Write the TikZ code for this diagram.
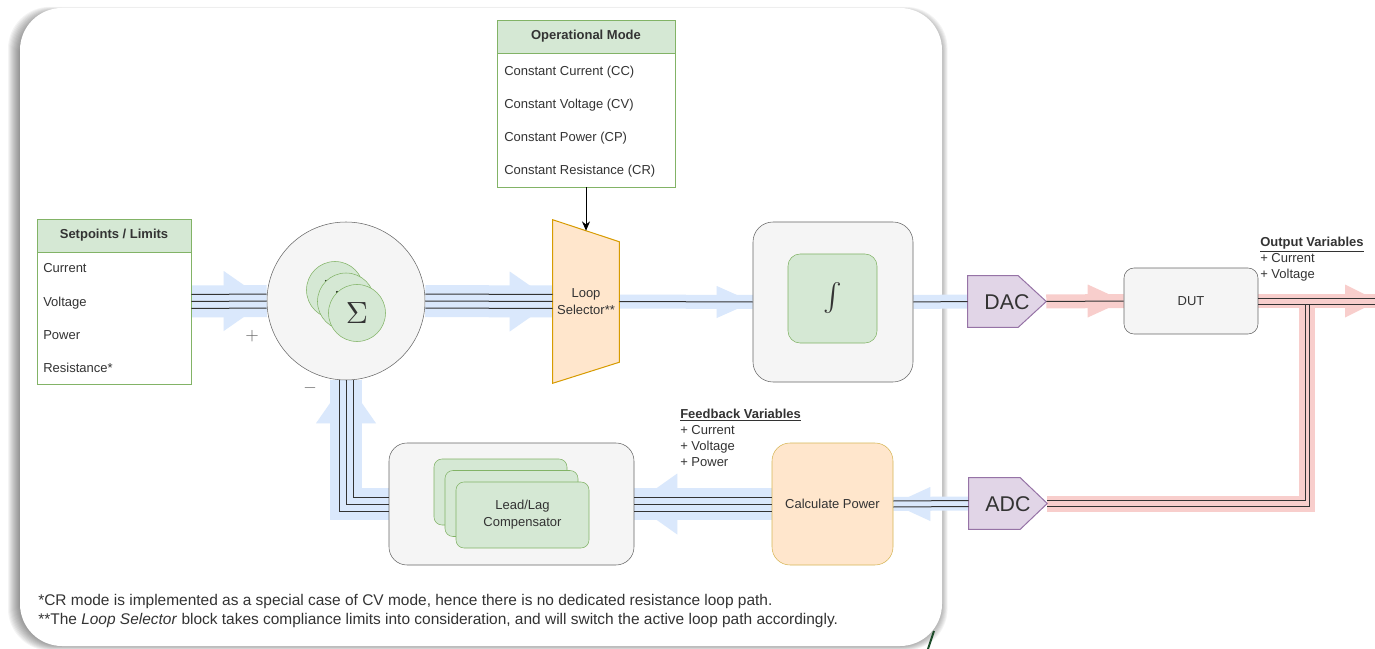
\documentclass[tikz,border=0pt]{standalone}
\usepackage{fontspec}
\setmainfont{Liberation Sans}
\usetikzlibrary{calc,arrows.meta}
\pgfdeclarelayer{back}
\pgfdeclarelayer{bands}
\pgfsetlayers{back,bands,main}
\definecolor{gfill}{HTML}{D5E8D4}
\definecolor{gdraw}{HTML}{82B366}
\definecolor{grfill}{HTML}{F5F5F5}
\definecolor{grdraw}{HTML}{666666}
\definecolor{ofill}{HTML}{FFE6CC}
\definecolor{odraw}{HTML}{D79B00}
\definecolor{ydraw}{HTML}{D6B656}
\definecolor{pfill}{HTML}{E1D5E7}
\definecolor{pdraw}{HTML}{9673A6}
\definecolor{bband}{HTML}{DAE8FC}
\definecolor{rband}{HTML}{F8CECC}
\definecolor{tc}{HTML}{333333}
\definecolor{dkgreen}{HTML}{1E4D2B}
\begin{document}
\begin{tikzpicture}[x=0.75pt,y=-0.75pt,
  every node/.style={text=tc},
  f/.style={font=\fontsize{9.75}{12.75}\selectfont},
  tbl/.style={draw=gdraw, fill=white, inner sep=0pt},
  hdr/.style={draw=gdraw, fill=gfill, inner sep=0pt, font=\bfseries\fontsize{9.75}{12}\selectfont},
  row/.style={f, anchor=base west, inner sep=0pt},
  grbox/.style={draw=grdraw, fill=grfill, inner sep=0pt},
  gnbox/.style={draw=gdraw, fill=gfill, inner sep=0pt},
  geo/.style={inner sep=0pt, draw=none},
  ln/.style={draw=tc, line width=0.75pt},
  bb/.style={bband, line width=#1, miter limit=10},
  rb/.style={rband, line width=#1, miter limit=10},
  lbl/.style={f, anchor=base west, inner sep=0pt}
]
\useasboundingbox (0,0) rectangle (1375,649);

% ---------- panel with shadow
\begin{pgfonlayer}{back}
\foreach \i in {1,...,12}{
  \fill[black,opacity=0.045,rounded corners=31.5pt]
    (20-\i*1.0,14-\i*0.6) rectangle (938+\i*0.8,644+\i*0.55);
}
\fill[white,rounded corners=31.5pt] (20,8) rectangle (942,646);
\end{pgfonlayer}
\draw[dkgreen,line width=1.5pt] (927,652) -- (934,631);

% ---------- nodes
\node[tbl, minimum width=115.5pt, minimum height=123.75pt] (sp) at (114,301.5) {};
\node[hdr, minimum width=115.5pt, minimum height=24.75pt] (sph) at (114,235.5) {Setpoints / Limits};
\node[row] (sp1) at (43,272.5) {Current};
\node[row] (sp2) at (43,306) {Voltage};
\node[row] (sp3) at (43,339) {Power};
\node[row] (sp4) at (43,372.5) {Resistance*};

\node[tbl, minimum width=133.5pt, minimum height=125.25pt] (om) at (586,103.5) {};
\node[hdr, minimum width=133.5pt, minimum height=24.75pt] (omh) at (586,36.5) {Operational Mode};
\node[row] (om1) at (504,75.5) {Constant Current (CC)};
\node[row] (om2) at (504,108.5) {Constant Voltage (CV)};
\node[row] (om3) at (504,141.5) {Constant Power (CP)};
\node[row] (om4) at (504,174.5) {Constant Resistance (CR)};

\node[grbox, circle, minimum size=118.5pt] (sum) at (346,301) {};
\node[gnbox, circle, minimum size=42.75pt] (s1) at (335,290) {};
\fill[black] (326,281) circle (1.2);
\node[gnbox, circle, minimum size=42.75pt] (s2) at (346,301.5) {};
\fill[black] (337,292) circle (1.2);
\node[gnbox, circle, minimum size=42.75pt] (s3) at (357,313) {\scalebox{2.3}{$\Sigma$}};
\node[text=grdraw] (plus) at (252,336) {\scalebox{1.3}{$+$}};
\node[text=grdraw] (minus) at (310,388) {\scalebox{1.3}{$-$}};

\node[geo, minimum width=49.5pt, minimum height=122.25pt] (sel) at (586,301.5) {};
\filldraw[fill=ofill, draw=odraw, line width=0.75pt]
  (sel.north west) -- ([yshift=-16.5pt]sel.north east) -- ([yshift=15.75pt]sel.south east) -- (sel.south west) -- cycle;
\node[f, align=center, inner sep=0pt] (selt) at (586,302) {Loop\\Selector**};

\node[grbox, rounded corners=15pt, minimum size=120pt] (integ) at (833,302) {};
\node[gnbox, rounded corners=9pt, minimum size=66.75pt] (integi) at (832.5,298.5) {\scalebox{2.1}{$\int$}};

\node[geo, minimum width=58.5pt, minimum height=38.25pt] (dac) at (1007,301.5) {};
\filldraw[fill=pfill, draw=pdraw, line width=0.75pt]
  (dac.north west) -- ([xshift=-21pt]dac.north east) -- (dac.east) -- ([xshift=-21pt]dac.south east) -- (dac.south west) -- cycle;
\node[font=\fontsize{16}{18}\selectfont, inner sep=0pt] (dact) at (1007,302) {DAC};

\node[grbox, rounded corners=7.5pt, minimum width=100.5pt, minimum height=49.5pt, f] (dut) at (1191,301) {DUT};

\node[geo, minimum width=58.5pt, minimum height=38.25pt] (adc) at (1008,503.5) {};
\filldraw[fill=pfill, draw=pdraw, line width=0.75pt]
  (adc.north west) -- ([xshift=-20.25pt]adc.north east) -- (adc.east) -- ([xshift=-20.25pt]adc.south east) -- (adc.south west) -- cycle;
\node[font=\fontsize{16}{18}\selectfont, inner sep=0pt] (adct) at (1008,504) {ADC};

\node[draw=ydraw, fill=ofill, rounded corners=13.5pt, minimum width=90.75pt, minimum height=91.5pt, inner sep=0pt, f] (cp) at (832.5,504) {Calculate Power};

\node[grbox, rounded corners=13.5pt, minimum width=183.75pt, minimum height=91.5pt] (ll) at (511.5,504) {};
\node[gnbox, rounded corners=6pt, minimum width=99.75pt, minimum height=49.5pt] (ll1) at (500.5,492) {};
\node[gnbox, rounded corners=6pt, minimum width=99.75pt, minimum height=49.5pt] (ll2) at (511.5,503.5) {};
\node[gnbox, rounded corners=6pt, minimum width=99.75pt, minimum height=49.5pt, f, align=center] (ll3) at (522.5,515) {Lead/Lag\\Compensator};

\coordinate (tap) at (1307,301);
\coordinate (out) at (1378,301);

% ---------- labels
\node[lbl, font=\bfseries\fontsize{9.75}{12}\selectfont] (fbh) at (680,418.5) {\underline{Feedback Variables}};
\node[lbl] (fb1) at (680,434.5) {+ Current};
\node[lbl] (fb2) at (680,450.5) {+ Voltage};
\node[lbl] (fb3) at (680,466.5) {+ Power};
\node[lbl, font=\bfseries\fontsize{9.75}{12}\selectfont] (ovh) at (1260,246.5) {\underline{Output Variables}};
\node[lbl] (ov1) at (1260,262.5) {+ Current};
\node[lbl] (ov2) at (1260,278.5) {+ Voltage};

\node[lbl, font=\fontsize{11.6}{13}\selectfont] (fn1) at (38,605) {*CR mode is implemented as a special case of CV mode, hence there is no dedicated resistance loop path.};
\node[lbl, font=\fontsize{11.6}{13}\selectfont] (fn2) at (38,624) {**The \textit{Loop Selector} block takes compliance limits into consideration, and will switch the active loop path accordingly.};

% ---------- bands
\begin{pgfonlayer}{bands}
\draw[bb=24pt] (sp.east) -- (sum.west);
\fill[bband] (sum.west) -- ++(-43,-30) -- ++(0,60) -- cycle;
\draw[bb=24pt] (sum.east) -- (sel.west);
\fill[bband] (sel.west) -- ++(-43,-30) -- ++(0,60) -- cycle;
\draw[bb=10.5pt] (sel.east) -- (integ.west);
\fill[bband] (integ.west) -- ++(-36,-16) -- ++(0,32) -- cycle;
\draw[bb=10.5pt] (integ.east) -- (dac.west);
\draw[rb=10.5pt] (dac.east) -- (dut.west);
\fill[rband] (dut.west) -- ++(-36,-16.5) -- ++(0,33) -- cycle;
\draw[rb=10.5pt] (dut.east) -- (out);
\fill[rband] (out) -- ++(-33,-16.5) -- ++(0,33) -- cycle;
\draw[rb=12pt] (tap) |- (adc.east);
\draw[bb=10.5pt] (adc.west) -- (cp.east);
\fill[bband] (cp.east) -- ++(37,-17) -- ++(0,34) -- cycle;
\draw[bb=24pt] (cp.west) -- (ll.east);
\fill[bband] (ll.east) -- ++(43,-30.5) -- ++(0,61) -- cycle;
\draw[bb=24pt] (ll.west) -| (sum.south);
\fill[bband] (sum.south) -- ++(-30,43) -- ++(60,0) -- cycle;
\end{pgfonlayer}

% ---------- connectors
\foreach \s in {-5.25pt,0pt,5.25pt}{
  \draw[ln] ([yshift=\s]sp.east) -- ([yshift=\s]sum.west);
  \draw[ln] ([yshift=\s]sum.east) -- ([yshift=\s]sel.west);
  \draw[ln] ([yshift=\s]cp.west) -- ([yshift=\s]ll.east);
}
\draw[ln] ([yshift=-5.25pt]ll.west) -| ([xshift=-5.25pt]sum.south);
\draw[ln] (ll.west) -| (sum.south);
\draw[ln] ([yshift=5.25pt]ll.west) -| ([xshift=5.25pt]sum.south);
\draw[ln] (sel.east) -- (integ.west);
\draw[ln] (integ.east) -- (dac.west);
\draw[ln] (dac.east) -- (dut.west);
\foreach \s in {-2.25pt,2.25pt}{
  \draw[ln] ([yshift=\s]dut.east) -- ([yshift=\s]out);
  \draw[ln] ([yshift=\s]adc.west) -- ([yshift=\s]cp.east);
}
\draw[ln] ([xshift=1.5pt,yshift=-2.25pt]tap) |- ([yshift=-2.25pt]adc.east);
\draw[ln] ([xshift=-1.5pt,yshift=-2.25pt]tap) |- ([yshift=2.25pt]adc.east);
\draw[line width=0.75pt, draw=black, -{Stealth[length=7pt,width=6pt]}] (om.south) -- ([yshift=-8.25pt]sel.north);
\end{tikzpicture}
\end{document}
